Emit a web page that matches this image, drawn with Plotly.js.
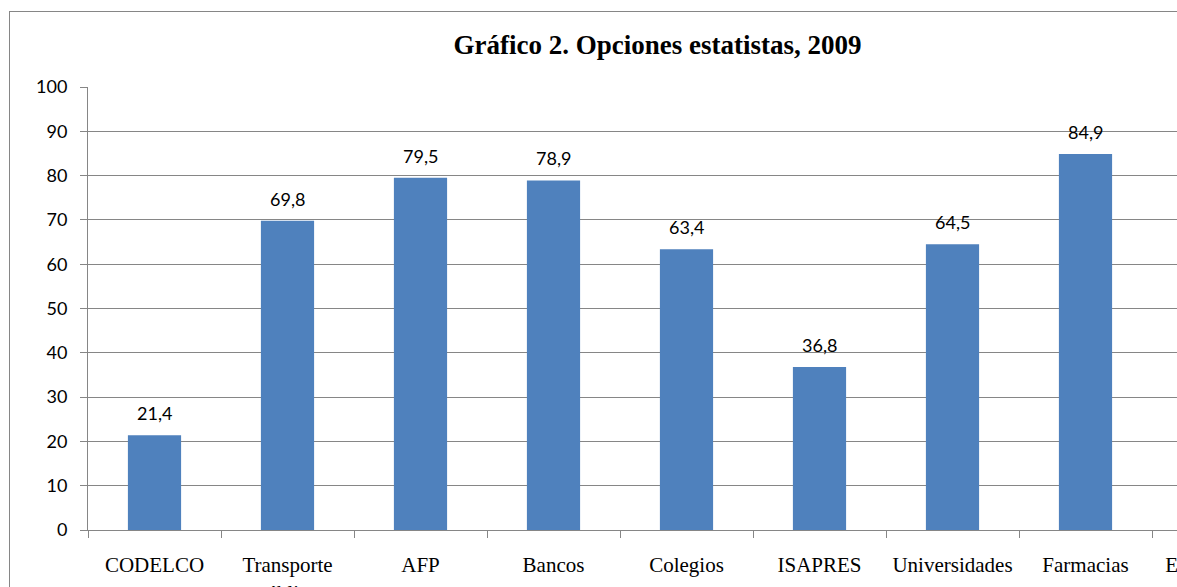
<!DOCTYPE html>
<html>
<head>
<meta charset="utf-8">
<script src="https://cdn.plot.ly/plotly-3.0.1.min.js"></script>
<style>
html, body { margin: 0; padding: 0; background: #fff; overflow: hidden; width: 100%; height: 100%; }
#clip { position: fixed; left: 0; top: 0; width: 1177px; height: 587px; overflow: hidden; background: #fff; }
#frame { position: absolute; left: 9px; top: 11px; border-left: 1px solid #868686; border-top: 1px solid #868686; width: 1295px; height: 640px; }
#chart { width: 1295px; height: 640px; }
</style>
</head>
<body>
<div id="clip"><div id="frame"><div id="chart"></div></div></div>
<script>
const categories = ["CODELCO", "Transporte<br>público", "AFP", "Bancos", "Colegios", "ISAPRES", "Universidades", "Farmacias", "Empresas de<br>agua"];
const values = [21.4, 69.8, 79.5, 78.9, 63.4, 36.8, 64.5, 84.9, 70.0];
const yTicks = [0, 10, 20, 30, 40, 50, 60, 70, 80, 90, 100];
const titleText = "Gráfico 2. Opciones estatistas, 2009";

const gray = "#868686";
const trace = {
  type: "bar",
  x: categories,
  y: values,
  width: 0.4,
  marker: { color: "#4F81BD", line: { width: 0 } },
  hoverinfo: "skip"
};

const annotations = categories.map((c, i) => ({
  x: c, y: values[i], xref: "x", yref: "y",
  text: values[i].toFixed(1).replace(".", ","),
  showarrow: false, yanchor: "bottom", yshift: 9,
  font: { family: "Lato, Carlito, sans-serif", size: 18, color: "#000" }
}));

const layout = {
  width: 1295, height: 640,
  margin: { l: 78, r: 20, t: 75, b: 122 },
  paper_bgcolor: "#fff", plot_bgcolor: "#fff",
  showlegend: false,
  title: {
    text: "<b>" + titleText + "</b>",
    font: { family: "Liberation Serif, Times New Roman, serif", size: 27, color: "#000" },
    x: 0.5, xanchor: "center", yref: "container", y: 1 - 33 / 640, yanchor: "middle"
  },
  xaxis: {
    type: "category",
    range: [-0.5, categories.length - 0.5],
    showline: true, linecolor: gray, linewidth: 1,
    ticks: "outside", tickson: "boundaries", ticklen: 7, tickcolor: gray, tickwidth: 1,
    showgrid: false, zeroline: false, tickangle: 0, automargin: false,
    tickfont: { family: "Liberation Serif, Times New Roman, serif", size: 21, color: "#000" },
    ticklabelstandoff: 16
  },
  yaxis: {
    range: [0, 100], tickvals: yTicks, ticktext: yTicks.map(String),
    showline: true, linecolor: gray, linewidth: 1,
    ticks: "outside", ticklen: 7, tickcolor: gray, tickwidth: 1,
    showgrid: true, gridcolor: gray, gridwidth: 1, zeroline: false, automargin: false,
    tickfont: { family: "Lato, Carlito, sans-serif", size: 18, color: "#000" },
    ticklabelstandoff: 9
  },
  annotations: annotations
};

Plotly.newPlot("chart", [trace], layout, { displayModeBar: false, staticPlot: true });
</script>
</body>
</html>
